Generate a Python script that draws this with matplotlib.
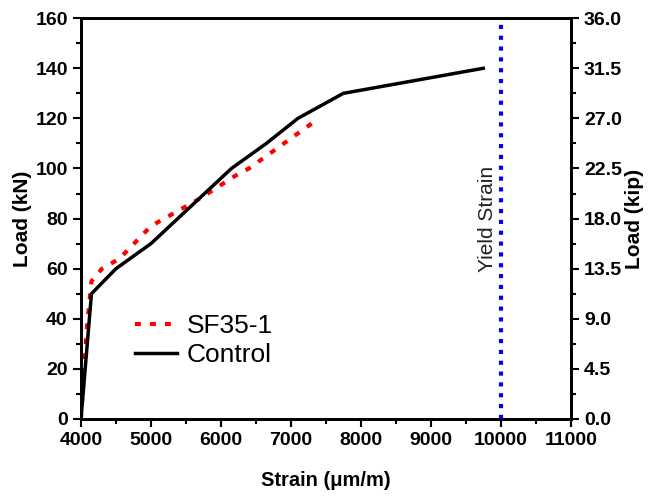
import numpy as np
import matplotlib.pyplot as plt
from matplotlib.ticker import MultipleLocator, FormatStrFormatter

plt.rcParams["font.family"] = ["Liberation Sans", "DejaVu Sans"]

# Control specimen
ctrl_strain = [4000, 4150, 4500, 5000, 6150, 6650, 7100, 7750, 9750]
ctrl_load = [0, 50, 60, 70, 100, 110, 120, 130, 140]

# SF35-1 specimen
sf_strain = [4000, 4080, 4150, 4300, 4550, 5000, 5700, 6200, 6400, 6900, 7400]
sf_load = [0, 35, 55, 60, 64, 77, 88, 97, 100, 110, 120]

YIELD_STRAIN = 10000
KN_TO_KIP = 36.0 / 160.0

fig = plt.figure(figsize=(6.53, 5.01), dpi=100)
ax = fig.add_axes([0.124, 0.1637, 0.750, 0.800])

ax.plot(sf_strain, sf_load, color="red", lw=3, linestyle=(0, (1.4, 2.2)), label="SF35-1")
ax.plot(ctrl_strain, ctrl_load, color="black", lw=2.5, label="Control")
ax.axvline(YIELD_STRAIN, color="blue", lw=3, linestyle=(0, (1.0, 1.6)))
ax.text(YIELD_STRAIN - 190, 80, "Yield Strain", rotation=90, ha="center", va="center",
        fontsize=15, color="#222222")

ax.set_xlim(4000, 11000)
ax.set_ylim(0, 160)
ax.xaxis.set_major_locator(MultipleLocator(1000))
ax.xaxis.set_minor_locator(MultipleLocator(500))
ax.yaxis.set_major_locator(MultipleLocator(20))
ax.yaxis.set_minor_locator(MultipleLocator(10))
ax.tick_params(which="major", direction="out", length=6, width=1.5, labelsize=14)
ax.tick_params(which="minor", direction="out", length=3.5, width=1.5)
for lbl in ax.get_xticklabels() + ax.get_yticklabels():
    lbl.set_fontweight("bold")
for sp in ax.spines.values():
    sp.set_linewidth(2)
ax.set_xlabel("Strain (μm/m)", fontsize=14.5, fontweight="bold", labelpad=16)
ax.set_ylabel("Load (kN)", fontsize=15, fontweight="bold", labelpad=2)

ax2 = ax.twinx()
ax2.set_ylim(0, 160 * KN_TO_KIP)
ax2.yaxis.set_major_locator(MultipleLocator(4.5))
ax2.yaxis.set_minor_locator(MultipleLocator(2.25))
ax2.yaxis.set_major_formatter(FormatStrFormatter("%.1f"))
ax2.tick_params(which="major", direction="out", length=6, width=1.5, labelsize=14)
ax2.tick_params(which="minor", direction="out", length=3.5, width=1.5)
for lbl in ax2.get_yticklabels():
    lbl.set_fontweight("bold")
for sp in ax2.spines.values():
    sp.set_linewidth(2)
ax2.set_ylabel("Load (kip)", fontsize=15, fontweight="bold", labelpad=2)

ax.legend(loc="lower left", bbox_to_anchor=(0.062, 0.07), frameon=False, fontsize=19,
          handlelength=1.6, handletextpad=0.35, labelspacing=0.2)

fig.savefig("out.png", dpi=100)
